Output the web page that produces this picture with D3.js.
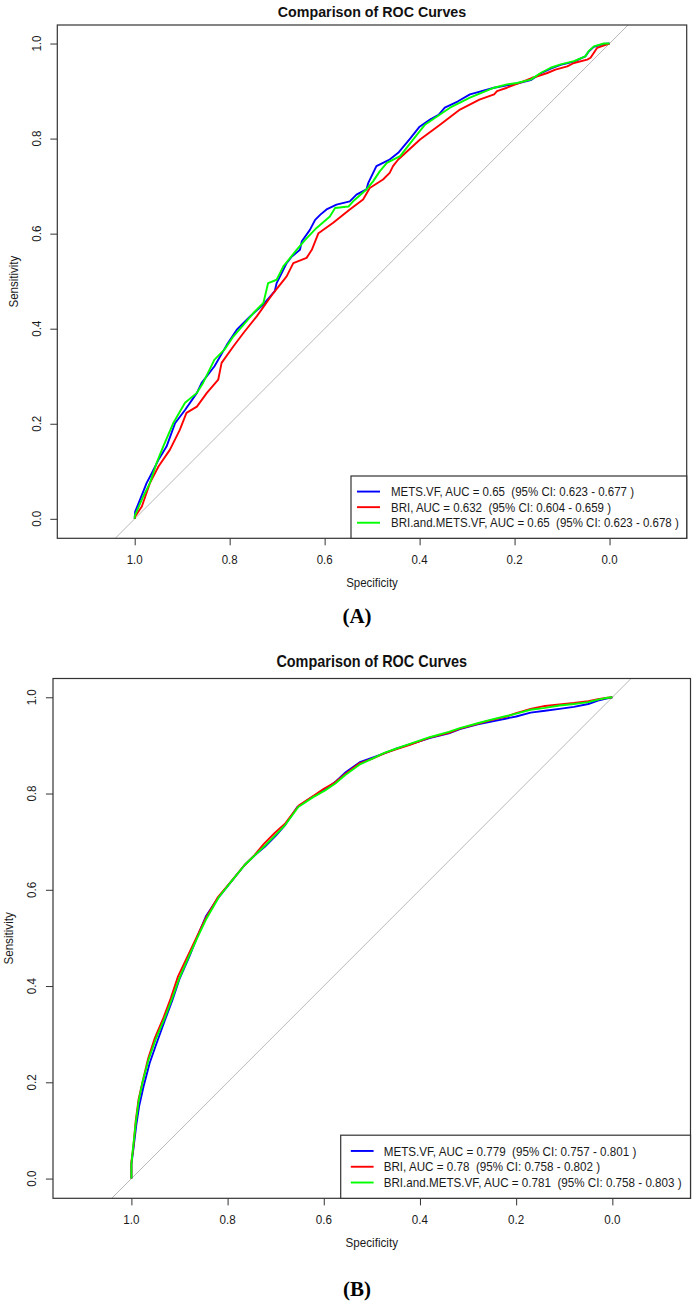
<!DOCTYPE html>
<html><head><meta charset="utf-8">
<script src="https://cdn.jsdelivr.net/npm/d3@7"></script>
<style>
html,body{margin:0;padding:0;background:#fff;}
svg{display:block;}
text{white-space:pre;}
</style></head>
<body>
<svg id="chart" width="694" height="1304"></svg>
<script>
// ---------------- DATA ----------------
const titleText = "Comparison of ROC Curves";
const xLabel = "Specificity";
const yLabel = "Sensitivity";
const panelLabels = ["(A)", "(B)"];
const specTicks = [1.0, 0.8, 0.6, 0.4, 0.2, 0.0];
const sensTicks = [0.0, 0.2, 0.4, 0.6, 0.8, 1.0];
const seriesNames = ["METS.VF", "BRI", "BRI.and.METS.VF"];
const seriesColors = ["#0000ff", "#ff0000", "#00ff00"];

const legendA = [
  "METS.VF, AUC = 0.65  (95% CI: 0.623 - 0.677 )",
  "BRI, AUC = 0.632  (95% CI: 0.604 - 0.659 )",
  "BRI.and.METS.VF, AUC = 0.65  (95% CI: 0.623 - 0.678 )"
];
const legendB = [
  "METS.VF, AUC = 0.779  (95% CI: 0.757 - 0.801 )",
  "BRI, AUC = 0.78  (95% CI: 0.758 - 0.802 )",
  "BRI.and.METS.VF, AUC = 0.781  (95% CI: 0.758 - 0.803 )"
];

// Panel A curves: [specificity, sensitivity]
const rocA_METS = [[1,0],[0.999,0.015],[0.985,0.05],[0.975,0.075],[0.964,0.096],[0.950,0.124],[0.933,0.152],[0.915,0.201],[0.894,0.229],[0.869,0.265],[0.859,0.286],[0.832,0.321],[0.806,0.366],[0.785,0.398],[0.757,0.426],[0.729,0.451],[0.705,0.479],[0.701,0.496],[0.680,0.538],[0.669,0.552],[0.652,0.566],[0.648,0.584],[0.631,0.608],[0.620,0.629],[0.609,0.640],[0.596,0.651],[0.575,0.661],[0.547,0.668],[0.533,0.682],[0.512,0.693],[0.508,0.707],[0.491,0.742],[0.477,0.749],[0.463,0.756],[0.445,0.770],[0.42,0.80],[0.40,0.825],[0.378,0.840],[0.36,0.85],[0.347,0.865],[0.32,0.878],[0.294,0.893],[0.243,0.907],[0.216,0.912],[0.195,0.916],[0.166,0.923],[0.145,0.937],[0.124,0.947],[0.103,0.955],[0.075,0.962],[0.051,0.973],[0.044,0.983],[0.033,0.993],[0.012,0.999],[0,1]];
const rocA_BRI = [[1,0],[0.999,0.005],[0.985,0.026],[0.968,0.075],[0.950,0.110],[0.926,0.145],[0.905,0.187],[0.891,0.223],[0.869,0.236],[0.848,0.265],[0.824,0.293],[0.817,0.328],[0.792,0.363],[0.771,0.391],[0.743,0.426],[0.708,0.475],[0.680,0.510],[0.666,0.538],[0.638,0.549],[0.627,0.566],[0.613,0.601],[0.582,0.623],[0.547,0.651],[0.519,0.672],[0.505,0.696],[0.477,0.714],[0.463,0.728],[0.456,0.742],[0.445,0.756],[0.399,0.798],[0.357,0.829],[0.315,0.861],[0.274,0.882],[0.243,0.893],[0.237,0.900],[0.216,0.907],[0.180,0.921],[0.163,0.928],[0.152,0.931],[0.131,0.938],[0.114,0.945],[0.089,0.952],[0.075,0.959],[0.047,0.966],[0.040,0.970],[0.026,0.991],[0.008,0.997],[0,1]];
const rocA_BOTH = [[1,0],[1,0.006],[0.982,0.047],[0.968,0.075],[0.954,0.117],[0.940,0.152],[0.919,0.201],[0.894,0.244],[0.869,0.265],[0.856,0.286],[0.832,0.335],[0.811,0.356],[0.792,0.384],[0.771,0.408],[0.750,0.433],[0.729,0.454],[0.719,0.496],[0.701,0.503],[0.687,0.531],[0.659,0.566],[0.641,0.587],[0.617,0.612],[0.589,0.636],[0.578,0.654],[0.550,0.657],[0.540,0.668],[0.512,0.693],[0.498,0.710],[0.484,0.731],[0.469,0.749],[0.441,0.763],[0.42,0.79],[0.40,0.815],[0.389,0.829],[0.336,0.865],[0.294,0.886],[0.243,0.907],[0.216,0.914],[0.195,0.917],[0.166,0.924],[0.145,0.938],[0.124,0.949],[0.103,0.956],[0.075,0.963],[0.051,0.973],[0.044,0.984],[0.033,0.994],[0.012,1.0],[0,1]];

// Panel B curves
const rocB_METS = [[1,0],[1,0.03],[0.996,0.06],[0.99,0.11],[0.984,0.15],[0.975,0.19],[0.962,0.24],[0.948,0.28],[0.93,0.33],[0.915,0.37],[0.9,0.415],[0.88,0.46],[0.862,0.505],[0.845,0.545],[0.822,0.58],[0.79,0.62],[0.764,0.652],[0.74,0.675],[0.722,0.69],[0.7,0.712],[0.68,0.735],[0.655,0.772],[0.625,0.792],[0.598,0.808],[0.575,0.825],[0.556,0.843],[0.525,0.865],[0.5,0.874],[0.473,0.884],[0.45,0.893],[0.421,0.902],[0.38,0.915],[0.34,0.925],[0.317,0.934],[0.28,0.944],[0.254,0.949],[0.22,0.956],[0.2,0.96],[0.17,0.968],[0.14,0.972],[0.11,0.976],[0.08,0.98],[0.05,0.986],[0.03,0.993],[0.01,0.998],[0,1]];
const rocB_BRI = [[1,0],[1,0.035],[0.996,0.065],[0.991,0.12],[0.985,0.165],[0.977,0.2],[0.965,0.25],[0.952,0.29],[0.933,0.335],[0.918,0.375],[0.903,0.42],[0.884,0.46],[0.865,0.5],[0.846,0.54],[0.82,0.585],[0.792,0.618],[0.766,0.65],[0.744,0.672],[0.725,0.695],[0.702,0.718],[0.68,0.738],[0.652,0.775],[0.622,0.795],[0.6,0.81],[0.577,0.823],[0.556,0.84],[0.527,0.862],[0.5,0.872],[0.473,0.884],[0.45,0.892],[0.421,0.901],[0.38,0.916],[0.34,0.926],[0.317,0.935],[0.28,0.945],[0.254,0.952],[0.22,0.96],[0.2,0.967],[0.17,0.976],[0.14,0.982],[0.11,0.985],[0.08,0.988],[0.05,0.992],[0.03,0.996],[0.01,0.999],[0,1]];
const rocB_BOTH = [[1,0],[1,0.03],[0.997,0.06],[0.991,0.115],[0.985,0.16],[0.977,0.2],[0.964,0.248],[0.95,0.288],[0.931,0.333],[0.916,0.372],[0.9,0.417],[0.882,0.458],[0.863,0.5],[0.844,0.54],[0.818,0.585],[0.79,0.62],[0.764,0.652],[0.743,0.672],[0.722,0.692],[0.7,0.714],[0.68,0.735],[0.653,0.772],[0.623,0.792],[0.598,0.806],[0.576,0.821],[0.556,0.838],[0.526,0.86],[0.5,0.872],[0.473,0.885],[0.45,0.893],[0.421,0.903],[0.38,0.917],[0.34,0.928],[0.317,0.936],[0.28,0.946],[0.254,0.953],[0.22,0.961],[0.2,0.966],[0.17,0.974],[0.14,0.978],[0.11,0.983],[0.08,0.986],[0.05,0.99],[0.03,0.995],[0.01,0.999],[0,1]];

// ---------------- LAYOUT ----------------
const FONT = "'Liberation Sans', Arial, Helvetica, sans-serif";
const SX = 0.92; // horizontal glyph compression seen in the reference
const xDomain = [1.163, -0.1625];
const yDomain = [-0.041, 1.039];

const panels = [
  { id: "A", curves: [rocA_METS, rocA_BRI, rocA_BOTH], legend: legendA, label: panelLabels[0],
    box: { x0: 57.3, x1: 686.7, y0: 25, y1: 538.3 }, fs: 12.5,
    titleY: 17, labelY: 622.5,
    leg: { x0: 351, y0: 476, lx0: 357, lx1: 380, tx: 391 } },
  { id: "B", curves: [rocB_METS, rocB_BRI, rocB_BOTH], legend: legendB, label: panelLabels[1],
    box: { x0: 53, x1: 690.5, y0: 678.5, y1: 1198.3 }, fs: 12.66,
    titleY: 667, labelY: 1296.3,
    leg: { x0: 340.7, y0: 1135.2, lx0: 350.8, lx1: 373.6, tx: 383.7 } }
];

const svg = d3.select("#chart");
svg.append("rect").attr("width", 694).attr("height", 1304).attr("fill", "#fff");

function addText(g, str, x, y, o) {
  o = o || {};
  const t = g.append("text")
    .attr("transform", `translate(${x},${y})` + (o.rot ? ` rotate(${o.rot})` : "") + ` scale(${o.sx || SX},1)`)
    .attr("text-anchor", o.anchor || "middle")
    .attr("font-family", o.family || FONT)
    .attr("font-size", o.size)
    .attr("font-weight", o.weight || "normal")
    .attr("fill", o.fill || "#1a1a1a")
    .attr("xml:space", "preserve")
    .text(str);
  if (o.dy) t.attr("dy", o.dy);
  return t;
}

panels.forEach((p, pi) => {
  const b = p.box;
  const k = (b.x1 - b.x0) / (xDomain[0] - xDomain[1]); // px per unit
  const x = d3.scaleLinear().domain(xDomain).range([b.x0, b.x1]);
  const y = d3.scaleLinear().domain(yDomain).range([b.y1, b.y0]);
  const g = svg.append("g").attr("class", "panel-" + p.id);
  const fs = p.fs;

  const clipId = "clip" + p.id;
  svg.append("clipPath").attr("id", clipId).append("rect")
    .attr("x", b.x0).attr("y", b.y0).attr("width", b.x1 - b.x0).attr("height", b.y1 - b.y0);

  // identity line
  g.append("line").attr("clip-path", `url(#${clipId})`)
    .attr("x1", x(1.3)).attr("y1", y(-0.3)).attr("x2", x(-0.3)).attr("y2", y(1.3))
    .attr("stroke", "#b8b8b8").attr("stroke-width", 1);

  // curves
  const line = d3.line().x(d => x(d[0])).y(d => y(d[1]));
  const cg = g.append("g").attr("clip-path", `url(#${clipId})`);
  p.curves.forEach((c, i) => {
    cg.append("path").datum(c).attr("d", line)
      .attr("fill", "none").attr("stroke", seriesColors[i])
      .attr("stroke-width", 1.9).attr("stroke-linejoin", "round");
  });

  // axes (ticks only; box drawn separately)
  const tickLen = 7 * k / 475;
  const xa = g.append("g").attr("transform", `translate(0,${b.y1})`)
    .call(d3.axisBottom(x).tickValues(specTicks).tickSize(tickLen).tickFormat(""));
  xa.select(".domain").remove();
  xa.selectAll("line").attr("stroke", "#333");
  const ya = g.append("g").attr("transform", `translate(${b.x0},0)`)
    .call(d3.axisLeft(y).tickValues(sensTicks).tickSize(tickLen).tickFormat(""));
  ya.select(".domain").remove();
  ya.selectAll("line").attr("stroke", "#333");

  const off1 = 21.2 * k / 475;
  const off3 = 43.8 * k / 475;
  const fmt = d3.format(".1f");
  specTicks.forEach(v => addText(g, fmt(v), x(v), b.y1 + off1, { size: fs, dy: "0.36em" }));
  sensTicks.forEach(v => addText(g, fmt(v), b.x0 - off1, y(v), { size: fs, rot: -90, dy: "0.36em" }));

  addText(g, xLabel, (b.x0 + b.x1) / 2, b.y1 + off3, { size: fs, dy: "0.36em" });
  addText(g, yLabel, b.x0 - off3, (b.y0 + b.y1) / 2, { size: fs, rot: -90, dy: "0.36em" });

  g.append("rect").attr("x", b.x0).attr("y", b.y0)
    .attr("width", b.x1 - b.x0).attr("height", b.y1 - b.y0)
    .attr("fill", "none").attr("stroke", "#333").attr("stroke-width", 1.2);

  addText(g, titleText, (b.x0 + b.x1) / 2, p.titleY, { size: 15.5 * k / 475, weight: "bold", fill: "#111" });

  // legend
  const L = p.leg;
  const lh = b.y1 - L.y0;
  g.append("rect").attr("x", L.x0).attr("y", L.y0).attr("width", b.x1 - L.x0).attr("height", lh)
    .attr("fill", "#fff").attr("stroke", "#333").attr("stroke-width", 1.2);
  p.legend.forEach((s, i) => {
    const ry = L.y0 + lh * (i + 1) / 4;
    g.append("line").attr("x1", L.lx0).attr("x2", L.lx1).attr("y1", ry).attr("y2", ry)
      .attr("stroke", seriesColors[i]).attr("stroke-width", 1.9);
    addText(g, s, L.tx, ry, { size: fs, anchor: "start", dy: "0.36em" });
  });

  svg.append("text").attr("x", 357).attr("y", p.labelY)
    .attr("text-anchor", "middle").attr("font-family", "'Liberation Serif', 'Times New Roman', serif")
    .attr("font-weight", "bold").attr("font-size", 21).attr("fill", "#000").text(p.label);
});
</script>
</body></html>
